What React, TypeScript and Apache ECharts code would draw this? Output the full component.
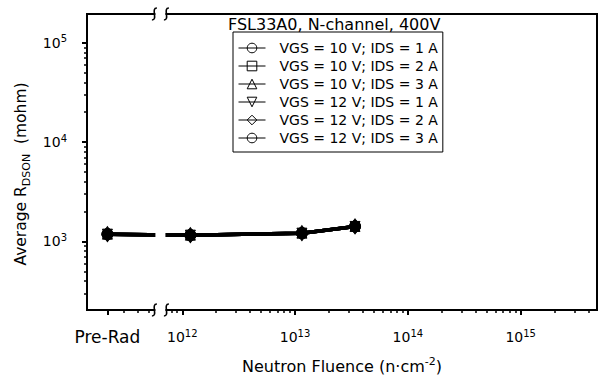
import React, { useEffect, useRef } from "react";
import * as echarts from "echarts";

// Position on the fluence axis that stands for the "Pre-Rad" category
const PRE_RAD_X = 2.17e11;
// Fluence values (n/cm^2)
const FLUENCE = [PRE_RAD_X, 1.18e12, 1.15e13, 3.4e13];

const SERIES_NAMES = [
  "VGS = 10 V; IDS = 1 A",
  "VGS = 10 V; IDS = 2 A",
  "VGS = 10 V; IDS = 3 A",
  "VGS = 12 V; IDS = 1 A",
  "VGS = 12 V; IDS = 2 A",
  "VGS = 12 V; IDS = 3 A",
];
const VGS10_IDS1 = [1184, 1157, 1212, 1416];
const VGS10_IDS2 = [1184, 1157, 1212, 1416];
const VGS10_IDS3 = [1184, 1157, 1212, 1416];
const VGS12_IDS1 = [1184, 1157, 1212, 1416];
const VGS12_IDS2 = [1184, 1157, 1212, 1416];
const VGS12_IDS3 = [1184, 1157, 1212, 1416];
const SERIES_VALUES = [VGS10_IDS1, VGS10_IDS2, VGS10_IDS3, VGS12_IDS1, VGS12_IDS2, VGS12_IDS3];

const Y_MIN = 204;
const Y_MAX = 195000;
const Y_MAJOR = [1e3, 1e4, 1e5];
const Y_MINOR = [
  300, 400, 500, 600, 700, 800, 900,
  2000, 3000, 4000, 5000, 6000, 7000, 8000, 9000,
  20000, 30000, 40000, 50000, 60000, 70000, 80000, 90000,
];

const X_MIN = 1.43e11;
const X_MAX = 4.75e15;
const X_MAJOR = [PRE_RAD_X, 1e12, 1e13, 1e14, 1e15];
const X_MINOR = [
  3e11, 4e11, 5e11, 6e11, 8e11, 9e11,
  2e12, 3e12, 4e12, 5e12, 6e12, 7e12, 8e12, 9e12,
  2e13, 3e13, 4e13, 5e13, 6e13, 7e13, 8e13, 9e13,
  2e14, 3e14, 4e14, 5e14, 6e14, 7e14, 8e14, 9e14,
  2e15, 3e15, 4e15,
];
const BREAK_VALUE = 6.4e11;

const TITLE = "FSL33A0, N-channel, 400V";
const Y_NAME = "Average R{sub|DSON}  (mohm)";
const X_NAME = "Neutron Fluence (n·cm{sup|-2})";
const FONT = "DejaVu Sans";

const SYMBOLS = ["circle", "rect", "triangle", "triangle", "diamond", "circle"];
const SYMBOL_ROTATE = [0, 0, 0, 180, 0, 0];
const SYMBOL_SIZE: any[] = [11, 8, 10, 10, [11, 15], 11];

export default function App() {
  const ref = useRef<HTMLDivElement>(null);
  useEffect(() => {
    if (!ref.current) return;
    const chart = echarts.init(ref.current, null, { renderer: "svg" });
    const supRich = {
      b: { fontFamily: FONT, fontSize: 14, lineHeight: 18, color: "#000" },
      sup: { fontFamily: FONT, fontSize: 10, lineHeight: 10, verticalAlign: "top", color: "#000" },
      pre: { fontFamily: FONT, fontSize: 17, lineHeight: 18, color: "#000" },
    };
    const powLabel = (v: number) => {
      if (Math.abs(v - PRE_RAD_X) / PRE_RAD_X < 0.01) return "{pre|Pre-Rad}";
      return `{b|10}{sup|${Math.round(Math.log10(v))}}`;
    };
    const series = SERIES_NAMES.map((name, i) => ({
      name,
      type: "line",
      xAxisIndex: 0,
      yAxisIndex: 0,
      data: FLUENCE.map((x, j) => [x, SERIES_VALUES[i][j]]),
      symbol: SYMBOLS[i],
      symbolRotate: SYMBOL_ROTATE[i],
      symbolSize: SYMBOL_SIZE[i],
      showSymbol: true,
      lineStyle: { color: "#000", width: 3.5 },
      itemStyle: { color: "#000", borderColor: "#000", borderWidth: 1 },
      z: 3,
    }));
    const minorAxisCommon = {
      axisLine: { show: false },
      axisLabel: { show: false },
      splitLine: { show: false },
    };
    const option: any = {
      animation: false,
      backgroundColor: "#fff",
      title: {
        text: TITLE,
        left: 228,
        top: 15,
        padding: 0,
        textStyle: { fontFamily: FONT, fontSize: 16, fontWeight: "normal", color: "#000", lineHeight: 18 },
      },
      legend: {
        orient: "vertical",
        left: 233,
        top: 32,
        padding: [9, 5, 7, 5],
        itemGap: 4,
        itemWidth: 27,
        itemHeight: 12,
        borderColor: "#000",
        borderWidth: 1,
        data: SERIES_NAMES,
        textStyle: { fontFamily: FONT, fontSize: 14, lineHeight: 14, color: "#000", padding: [0, 0, 0, 9] },
        itemStyle: { color: "rgba(0,0,0,0)", borderColor: "#000", borderWidth: 1 },
        lineStyle: { color: "#000", width: 1 },
      },
      grid: {
        left: 87,
        top: 14,
        right: 5,
        bottom: 70,
        show: true,
        borderColor: "#000",
        borderWidth: 2,
        backgroundColor: "rgba(0,0,0,0)",
      },
      xAxis: [
        {
          type: "log",
          min: X_MIN,
          max: X_MAX,
          position: "bottom",
          axisLine: { show: true, lineStyle: { color: "#000", width: 2 } },
          axisTick: { show: true, length: 5, lineStyle: { color: "#000", width: 2 }, customValues: X_MAJOR },
          axisLabel: { show: true, margin: 18, customValues: X_MAJOR, formatter: powLabel, rich: supRich },
          splitLine: { show: false },
          name: X_NAME,
          nameLocation: "middle",
          nameGap: 46,
          nameTextStyle: {
            fontFamily: FONT, fontSize: 16, color: "#000", lineHeight: 20,
            rich: { sup: { fontFamily: FONT, fontSize: 11, lineHeight: 11, verticalAlign: "top", color: "#000" } },
          },
        },
        {
          type: "log",
          min: X_MIN,
          max: X_MAX,
          position: "bottom",
          axisTick: { show: true, length: 3, lineStyle: { color: "#000", width: 1.5 }, customValues: X_MINOR },
          ...minorAxisCommon,
        },
      ],
      yAxis: [
        {
          type: "log",
          min: Y_MIN,
          max: Y_MAX,
          position: "left",
          axisLine: { show: true, lineStyle: { color: "#000", width: 2 } },
          axisTick: { show: true, length: 5, lineStyle: { color: "#000", width: 2 }, customValues: Y_MAJOR },
          axisLabel: { show: true, margin: 20, customValues: Y_MAJOR, formatter: powLabel, rich: supRich },
          splitLine: { show: false },
        },
        {
          type: "log",
          min: Y_MIN,
          max: Y_MAX,
          position: "left",
          axisTick: { show: true, length: 3, lineStyle: { color: "#000", width: 1.5 }, customValues: Y_MINOR },
          ...minorAxisCommon,
        },
      ],
      series,
    };
    chart.setOption(option);

    const bx = chart.convertToPixel({ xAxisIndex: 0 }, BREAK_VALUE) as number;
    const axisX = chart.convertToPixel({ xAxisIndex: 0 }, X_MIN) as number;
    const yTop = chart.convertToPixel({ yAxisIndex: 0 }, Y_MAX) as number;
    const yBot = chart.convertToPixel({ yAxisIndex: 0 }, Y_MIN) as number;
    const curl = (x: number, y: number) => ({
      type: "bezierCurve",
      z: 101,
      shape: { x1: x + 2.5, y1: y - 6, cpx1: x - 4, cpy1: y - 6, cpx2: x + 4, cpy2: y + 6, x2: x - 2.5, y2: y + 6 },
      style: { stroke: "#000", lineWidth: 1.6, fill: null },
    });
    chart.setOption({
      graphic: [
        {
          type: "rect",
          z: 100,
          shape: { x: bx - 5, y: yTop - 8, width: 10, height: yBot - yTop + 20 },
          style: { fill: "#fff" },
        },
        curl(bx - 6, yTop),
        curl(bx + 6, yTop),
        curl(bx - 6, yBot),
        curl(bx + 6, yBot),
        {
          type: "text",
          z: 100,
          x: axisX - 66,
          y: (yTop + yBot) / 2 + 12,
          rotation: Math.PI / 2,
          style: {
            text: Y_NAME,
            fontFamily: FONT,
            fontSize: 15.5,
            fill: "#000",
            align: "center",
            verticalAlign: "middle",
            lineHeight: 22,
            rich: { sub: { fontFamily: FONT, fontSize: 11, lineHeight: 12, verticalAlign: "bottom", fill: "#000" } },
          },
        },
      ],
    });
    return () => chart.dispose();
  }, []);
  return (
    <div
      ref={ref}
      style={{ position: "absolute", left: 0, top: 0, width: 602, height: 381, background: "#fff" }}
    />
  );
}
